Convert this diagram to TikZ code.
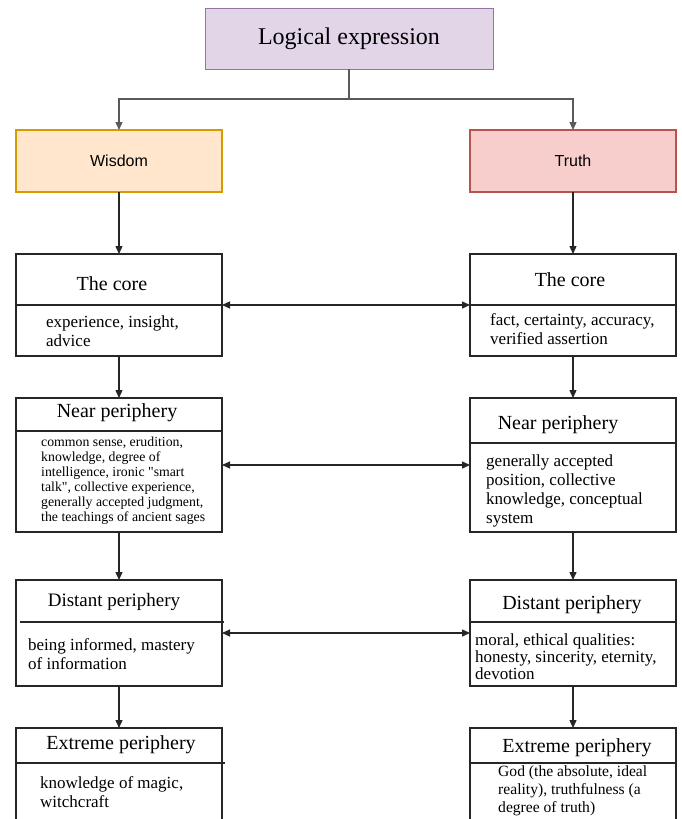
\documentclass[tikz,border=0pt]{standalone}
\usepackage{fontspec}
\setmainfont{Liberation Serif}
\newfontfamily\sansfont{Liberation Sans}
\usetikzlibrary{arrows.meta,positioning}
\definecolor{lilacfill}{HTML}{E1D5E7}
\definecolor{lilacline}{HTML}{9673A6}
\definecolor{orangefill}{HTML}{FFE6CC}
\definecolor{orangeline}{HTML}{D79B00}
\definecolor{redfill}{HTML}{F8CECC}
\definecolor{redline}{HTML}{B85450}
\definecolor{edgegray}{HTML}{5A5A5A}
\tikzset{
  cell/.style={draw=black!85, line width=1.2pt, minimum width=206pt, inner sep=0pt, outer sep=0pt},
  head/.style={cell, minimum height=62pt, font=\sansfont\fontsize{16}{18}\selectfont},
  ttl/.style={inner sep=0pt, font=\fontsize{20}{22}\selectfont},
  txt/.style={inner sep=0pt, anchor=west, align=left, font=\fontsize{17}{19}\selectfont},
  sep/.style={line width=1.2pt, black!85},
  arr/.style={-{Triangle[length=8pt,width=7pt]}, line width=1.3pt, draw=black!85},
  dbl/.style={{Triangle[length=8pt,width=7pt]}-{Triangle[length=8pt,width=7pt]}, line width=1.3pt, draw=black!85},
}
\begin{document}
\begin{tikzpicture}[x=1pt,y=-1pt]
  \useasboundingbox (0,0) rectangle (681,819);
  \clip (0,0) rectangle (681,819);

  % top
  \node[draw=lilacline, fill=lilacfill, line width=1pt, minimum width=288pt, minimum height=61pt,
        outer sep=0pt, font=\fontsize{24}{26}\selectfont] (logic) at (349,38.5) {Logical expression};
  \node[head, draw=orangeline, fill=orangefill] (wisdom) at (119,161) {Wisdom};
  \node[head, draw=redline, fill=redfill] (truth) at (573,161) {Truth};
  \draw[arr, draw=edgegray] (logic.south) -- ++(0,30) -| (wisdom.north);
  \draw[arr, draw=edgegray] (logic.south) -- ++(0,30) -| (truth.north);

  % left column
  \node[cell, minimum height=102pt, below=62pt of wisdom] (lcore) {};
  \node[cell, minimum height=134pt, below=42pt of lcore] (lnear) {};
  \node[cell, minimum height=106pt, below=48pt of lnear] (ldist) {};
  \node[cell, minimum height=110pt, below=42pt of ldist] (lext) {};

  % right column
  \node[cell, minimum height=102pt, below=62pt of truth] (rcore) {};
  \node[cell, minimum height=134pt, below=42pt of rcore] (rnear) {};
  \node[cell, minimum height=106pt, below=48pt of rnear] (rdist) {};
  \node[cell, minimum height=110pt, below=42pt of rdist] (rext) {};

  % dividers
  \draw[sep] (lcore.west |- 0,305) -- (lcore.east |- 0,305);
  \draw[sep] (rcore.west |- 0,305) -- (rcore.east |- 0,305);
  \draw[sep] (lnear.west |- 0,431) -- (lnear.east |- 0,431);
  \draw[sep] (rnear.west |- 0,443) -- (rnear.east |- 0,443);
  \draw[sep] ([xshift=4pt]ldist.west |- 0,622) -- ([xshift=2pt]ldist.east |- 0,622);
  \draw[sep] (rdist.west |- 0,622) -- ([xshift=1pt]rdist.east |- 0,622);
  \draw[sep] (lext.west |- 0,763) -- ([xshift=3pt]lext.east |- 0,763);
  \draw[sep] (rext.west |- 0,763) -- (rext.east |- 0,763);

  % titles
  \node[ttl] (lcoret) at (112,284) {The core};
  \node[ttl] (rcoret) at (570,280) {The core};
  \node[ttl] (lneart) at (117,413) {Near periphery};
  \node[ttl] (rneart) at (558,425) {Near periphery};
  \node[ttl, font=\fontsize{19}{21}\selectfont] (ldistt) at (114,602) {Distant periphery};
  \node[ttl] (rdistt) at (572,605) {Distant periphery};
  \node[ttl] (lextt) at (121,745) {Extreme periphery};
  \node[ttl] (rextt) at (577,748) {Extreme periphery};

  % texts
  \node[txt] (lcorex) at (46,331.5) {experience, insight,\\advice};
  \node[txt] (rcorex) at (490,329.5) {fact, certainty, accuracy,\\verified assertion};
  \node[txt, font=\fontsize{13.8}{15}\selectfont] (lnearx) at (41,480.5)
    {common sense, erudition,\\knowledge, degree of\\intelligence, ironic \textquotedbl smart\\talk\textquotedbl, collective experience,\\generally accepted judgment,\\the teachings of ancient sages};
  \node[txt] (rnearx) at (486,490.5) {generally accepted\\position, collective\\knowledge, conceptual\\system};
  \node[txt] (ldistx) at (28,654.5) {being informed, mastery\\of information};
  \node[txt, font=\fontsize{17}{17}\selectfont] (rdistx) at (475,656.5) {moral, ethical qualities:\\honesty, sincerity, eternity,\\devotion};
  \node[txt] (lextx) at (40,792.5) {knowledge of magic,\\witchcraft};
  \node[txt, font=\fontsize{15.6}{18}\selectfont] (rextx) at (498,791) {God (the absolute, ideal\\reality), truthfulness (a\\degree of truth)};

  % connectors
  \draw[arr] (wisdom) -- (lcore);
  \draw[arr] (lcore) -- (lnear);
  \draw[arr] (lnear) -- (ldist);
  \draw[arr] (ldist) -- (lext);
  \draw[arr] (truth) -- (rcore);
  \draw[arr] (rcore) -- (rnear);
  \draw[arr] (rnear) -- (rdist);
  \draw[arr] (rdist) -- (rext);
  \draw[dbl] (lcore) -- (rcore);
  \draw[dbl] (lnear) -- (rnear);
  \draw[dbl] (ldist) -- (rdist);
\end{tikzpicture}
\end{document}
